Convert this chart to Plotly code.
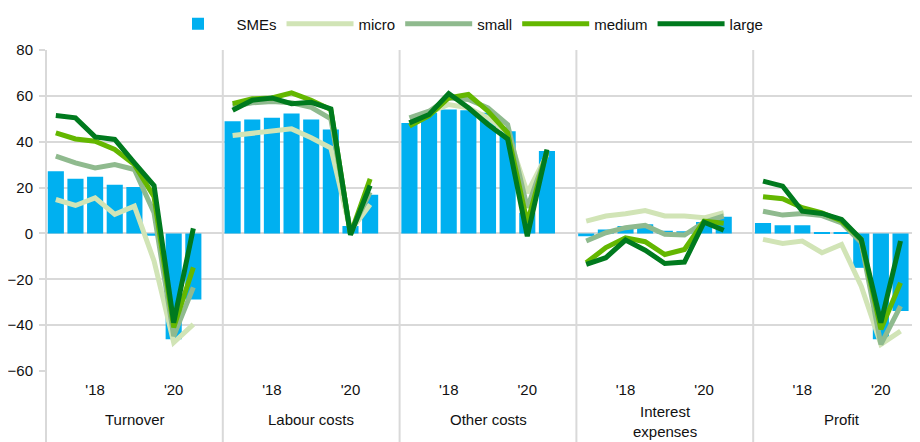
import plotly.graph_objects as go

periods = ['2017H1', '2017H2', '2018H1', '2018H2', '2019H1', '2019H2', '2020H1', '2020H2']
tick_vals = ['2018H1', '2020H1']
tick_text = ["'18", "'20"]
panel_titles = ['Turnover', 'Labour costs', 'Other costs', 'Interest<br>expenses', 'Profit']
series_names = ['SMEs', 'micro', 'small', 'medium', 'large']

# Turnover
turnover_smes = [27.1, 23.8, 24.7, 21.2, 20.3, -1.0, -46.2, -28.8]
turnover_micro = [14.8, 12.2, 15.5, 8.3, 11.9, -12.0, -47.6, -39.7]
turnover_small = [33.7, 30.8, 28.6, 30.0, 27.9, 9.0, -44.8, -23.5]
turnover_medium = [43.9, 41.2, 40.2, 36.6, 30.0, 16.0, -41.0, -14.8]
turnover_large = [51.4, 50.4, 42.1, 41.0, 30.8, 20.9, -38.9, 2.2]

# Labour costs
labour_smes = [48.9, 49.7, 50.5, 52.3, 49.7, 45.3, 3.2, 16.9]
labour_micro = [42.7, 43.8, 44.7, 45.6, 41.7, 37.3, 1.0, 12.6]
labour_small = [55.5, 57.0, 57.5, 57.0, 55.0, 50.0, 0.5, 18.0]
labour_medium = [56.6, 58.7, 59.1, 61.3, 58.1, 54.0, -0.4, 23.8]
labour_large = [53.7, 58.1, 59.1, 56.6, 57.2, 54.3, -0.6, 20.9]

# Other costs
other_smes = [48.2, 52.6, 54.0, 53.7, 52.6, 44.6, 9.0, 35.9]
other_micro = [48.2, 52.6, 56.2, 54.8, 50.4, 43.9, 17.7, 34.4]
other_small = [50.4, 53.3, 59.1, 58.4, 54.8, 47.5, 11.2, 35.1]
other_medium = [46.8, 51.4, 59.1, 60.6, 53.3, 43.9, 4.6, 35.9]
other_large = [48.2, 51.9, 61.0, 54.8, 47.5, 41.2, -1.2, 36.6]

# Interest expenses
interest_smes = [-1.2, 1.7, 3.2, 4.0, 1.2, 1.0, 5.0, 7.3]
interest_micro = [5.4, 7.6, 8.6, 10.0, 7.6, 7.6, 6.8, 9.0]
interest_small = [-3.3, 0.3, 2.5, 3.5, -0.4, -0.7, 4.9, 7.6]
interest_medium = [-12.8, -6.2, -1.9, -3.6, -9.2, -7.0, 5.4, 4.4]
interest_large = [-13.5, -10.6, -2.9, -7.3, -13.1, -12.5, 4.9, 1.4]

# Profit
profit_smes = [4.6, 3.6, 3.6, 0.5, 0.3, -15.0, -46.2, -33.8]
profit_micro = [-2.6, -4.4, -3.3, -8.4, -4.8, -23.0, -48.4, -42.6]
profit_small = [9.7, 8.0, 8.7, 7.8, 4.6, -4.0, -48.4, -31.7]
profit_medium = [16.0, 15.1, 11.2, 9.0, 5.4, -2.6, -41.8, -21.5]
profit_large = [22.8, 20.6, 9.7, 8.7, 6.1, -2.6, -38.9, -3.3]

panels = [
    [turnover_smes, turnover_micro, turnover_small, turnover_medium, turnover_large],
    [labour_smes, labour_micro, labour_small, labour_medium, labour_large],
    [other_smes, other_micro, other_small, other_medium, other_large],
    [interest_smes, interest_micro, interest_small, interest_medium, interest_large],
    [profit_smes, profit_micro, profit_small, profit_medium, profit_large],
]

colors = ['#00b0f0', '#d1e4b6', '#8fba8e', '#64b700', '#007a1e']
FONT = 'Liberation Sans, Arial, sans-serif'
GRID = '#d9d9d9'

OFF = 8  # page body margin
W, H = 920 - OFF, 442 - OFF
ML, MT = 46 - OFF, 50 - OFF
PLOT_BOTTOM = 371 - OFF
MB = H - PLOT_BOTTOM
plot_w = W - ML
plot_h = H - MT - MB
panel_px = 176.8
slot_px = panel_px / 9

fig = go.Figure()
bounds = [i * panel_px / plot_w for i in range(5)] + [1.0]

for p, vals in enumerate(panels):
    xa = 'x' if p == 0 else 'x%d' % (p + 1)
    fig.add_trace(go.Bar(x=periods, y=vals[0], name=series_names[0], marker=dict(color=colors[0], line=dict(width=0)),
                         xaxis=xa, yaxis='y', showlegend=(p == 0), legendgroup=series_names[0]))
    for s in range(1, 5):
        fig.add_trace(go.Scatter(x=periods, y=vals[s], name=series_names[s], mode='lines',
                                 line=dict(color=colors[s], width=5),
                                 xaxis=xa, yaxis='y', showlegend=(p == 0), legendgroup=series_names[s]))

layout = dict(
    width=W, height=H,
    margin=dict(l=ML, r=0, t=MT, b=MB, pad=0, autoexpand=False),
    plot_bgcolor='white', paper_bgcolor='white',
    font=dict(family=FONT, size=15, color='#111111'),
    bargap=0.18,
    showlegend=True,
    legend=dict(orientation='h', xref='container', yref='container', x=0.5, y=1 - (24 - OFF) / H,
                xanchor='center', yanchor='middle', font=dict(size=15), itemwidth=67,
                traceorder='normal'),
    yaxis=dict(range=[-60, 80], dtick=20, showgrid=True, gridcolor=GRID, gridwidth=1.5,
               zeroline=False, ticks='outside', ticklen=6, tickcolor=GRID, tickwidth=1.5,
               showline=False, anchor='x', domain=[0, 1], ticklabelstandoff=3,
               tickfont=dict(size=15)),
)

for p in range(5):
    key = 'xaxis' if p == 0 else 'xaxis%d' % (p + 1)
    width_px = (bounds[p + 1] - bounds[p]) * plot_w
    rng = [-0.5, -0.5 + width_px / slot_px]
    layout[key] = dict(domain=[bounds[p], bounds[p + 1]], type='category', categoryorder='array',
                       categoryarray=periods, range=rng, tickvals=tick_vals, ticktext=tick_text,
                       showgrid=False, zeroline=False, showline=False, ticks='', anchor='y',
                       ticklabelstandoff=8, tickfont=dict(size=15))

fig.update_layout(**layout)

shapes = []
y_bottom = -(MB) / plot_h
for p in range(5):
    shapes.append(dict(type='line', xref='paper', yref='paper', x0=bounds[p], x1=bounds[p],
                       y0=1, y1=y_bottom, line=dict(color=GRID, width=2), layer='below'))
fig.update_layout(shapes=shapes)

for p, t in enumerate(panel_titles):
    cx = (bounds[p] + (bounds[p] + panel_px / plot_w)) / 2
    n_lines = t.count('<br>') + 1
    yc = 419 - OFF + (n_lines - 1) * 3
    fig.add_annotation(text=t, xref='paper', yref='paper', x=cx, y=-(yc - PLOT_BOTTOM) / plot_h,
                       xanchor='center', yanchor='middle', showarrow=False, font=dict(size=15))

fig.write_html('out.html')
